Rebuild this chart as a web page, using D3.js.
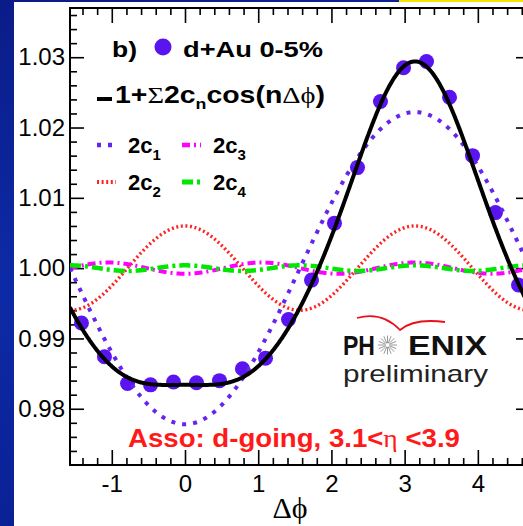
<!DOCTYPE html>
<html><head><meta charset="utf-8">
<script src="https://cdn.jsdelivr.net/npm/d3@7"></script>
<style>html,body{margin:0;padding:0;background:#fff;overflow:hidden}</style>
</head><body>
<svg id="c" width="523" height="526" xmlns="http://www.w3.org/2000/svg"></svg>
<script>
// ---- data ----
const dphiBins = [-1.414, -1.100, -0.785, -0.471, -0.157, 0.157, 0.471, 0.785, 1.100, 1.414,
                  1.728, 2.042, 2.356, 2.670, 2.985, 3.299, 3.613, 3.927, 4.241, 4.555];
const corrValues = [0.9922, 0.9874, 0.9836, 0.9834, 0.9838, 0.9837, 0.9840, 0.9857, 0.9872, 0.9927,
                    0.9983, 1.0064, 1.0143, 1.0237, 1.0285, 1.0294, 1.0243, 1.0160, 1.0079, 0.9976];
const harmonicOrders = [1, 2, 3, 4];
const harmonicCoeffs = [-0.0222, 0.0060, -0.0008, 0.0004];   // 2c_n
const harmonicColors = ["#6624ee", "#ff2424", "#ff00ff", "#00e800"];
const xTickValues = [-1, 0, 1, 2, 3, 4];
const xTickLabels = ["-1", "0", "1", "2", "3", "4"];
const yTickValues = [0.98, 0.99, 1.00, 1.01, 1.02, 1.03];
const yTickLabels = ["0.98", "0.99", "1.00", "1.01", "1.02", "1.03"];

const svg = d3.select("#c");
const W = 523, H = 526;

// slide background
const defs = svg.append("defs");
const g1 = defs.append("linearGradient").attr("id","bg").attr("x1","0").attr("y1","0").attr("x2","0.3").attr("y2","1");
g1.append("stop").attr("offset","0").attr("stop-color","#0a1c88");
g1.append("stop").attr("offset","0.5").attr("stop-color","#0d2aa6");
g1.append("stop").attr("offset","1").attr("stop-color","#0a1f92");
svg.append("rect").attr("width",W).attr("height",H).attr("fill","url(#bg)");
svg.append("rect").attr("x",14).attr("y",2).attr("width",W-14).attr("height",H-2).attr("fill","#fff");
svg.append("rect").attr("x",399).attr("y",0).attr("width",W-399).attr("height",2).attr("fill","#f5e600");

// scales
const x = d3.scaleLinear().domain([-Math.PI/2, 3*Math.PI/2]).range([70, 530]);
const y = d3.scaleLinear().domain([0.972, 1.037]).range([465, 8]);
const L = 70, R = 530, T = 8, B = 465;

defs.append("clipPath").attr("id","clip").append("rect")
  .attr("x",L).attr("y",T).attr("width",R-L).attr("height",B-T);

const font = "'Liberation Sans', Arial, Helvetica, sans-serif";
const serif = "'Liberation Serif', 'Times New Roman', serif";
const fitW = (sel, w) => sel.attr("textLength", w).attr("lengthAdjust","spacingAndGlyphs");

// minor tick values
const xMinor = d3.range(-1.4, 4.61, 0.2).filter(v => Math.abs(v - Math.round(v)) > 1e-6);
const yMinor = d3.range(0.974, 1.0365, 0.002).filter(v => Math.abs(v*100 - Math.round(v*100)) > 1e-6);

function styleAxis(g){
  g.select(".domain").remove();
  g.selectAll(".tick line").attr("stroke","#000").attr("stroke-width",1.6);
}
// bottom
svg.append("g").attr("transform",`translate(0,${B})`)
  .call(d3.axisBottom(x).tickValues(xMinor).tickSize(-7).tickFormat("")).call(styleAxis);
const xb = svg.append("g").attr("transform",`translate(0,${B})`)
  .call(d3.axisBottom(x).tickValues(xTickValues).tickSize(-15).tickPadding(10)
        .tickFormat((d,i)=>xTickLabels[i])).call(styleAxis);
xb.selectAll("text").attr("font-family",font).attr("font-size",24).attr("fill","#000");
// top
svg.append("g").attr("transform",`translate(0,${T})`)
  .call(d3.axisTop(x).tickValues(xMinor).tickSize(-7).tickFormat("")).call(styleAxis);
svg.append("g").attr("transform",`translate(0,${T})`)
  .call(d3.axisTop(x).tickValues(xTickValues).tickSize(-15).tickFormat("")).call(styleAxis);
// left
svg.append("g").attr("transform",`translate(${L},0)`)
  .call(d3.axisLeft(y).tickValues(yMinor).tickSize(-7).tickFormat("")).call(styleAxis);
const yl = svg.append("g").attr("transform",`translate(${L},0)`)
  .call(d3.axisLeft(y).tickValues(yTickValues).tickSize(-14).tickPadding(5)
        .tickFormat((d,i)=>yTickLabels[i])).call(styleAxis);
yl.selectAll("text").attr("font-family",font).attr("font-size",24).attr("fill","#000");
// right
svg.append("g").attr("transform",`translate(${R},0)`)
  .call(d3.axisRight(y).tickValues(yMinor).tickSize(-7).tickFormat("")).call(styleAxis);
svg.append("g").attr("transform",`translate(${R},0)`)
  .call(d3.axisRight(y).tickValues(yTickValues).tickSize(-14).tickFormat("")).call(styleAxis);

// frame
svg.append("rect").attr("x",L).attr("y",T).attr("width",R-L).attr("height",B-T)
  .attr("fill","none").attr("stroke","#000").attr("stroke-width",2);

// axis title
svg.append("text").attr("x",290).attr("y",518).attr("text-anchor","middle")
  .attr("font-family",serif).attr("font-size",30)
  .text("Δϕ");

const plot = svg.append("g").attr("clip-path","url(#clip)");

// data points
plot.selectAll("circle.pt").data(dphiBins).join("circle").attr("class","pt")
  .attr("cx", d => x(d)).attr("cy", (d,i) => y(corrValues[i])).attr("r", 7.5)
  .attr("fill","#5a14ef");

// fit components
const grid = d3.range(-Math.PI/2, 3*Math.PI/2 + 0.005, 0.01);
const line = d3.line().x(d => x(d[0])).y(d => y(d[1]));
const dashes = ["4,7", "2,2.6", "8,4,2,4", "11,4,3,4"];
const widths = [4, 3.4, 4, 4.5];
const drawOrder = [1, 2, 3, 0];
drawOrder.forEach(k => {
  const n = harmonicOrders[k], c = harmonicCoeffs[k];
  plot.append("path").datum(grid.map(p => [p, 1 + c*Math.cos(n*p)]))
    .attr("d", line).attr("fill","none").attr("stroke", harmonicColors[k])
    .attr("stroke-width", widths[k]).attr("stroke-dasharray", dashes[k]);
});
plot.append("path").datum(grid.map(p => [p, 1 + d3.sum(harmonicOrders, (n,k) => harmonicCoeffs[k]*Math.cos(n*p))]))
  .attr("d", line).attr("fill","none").attr("stroke","#000").attr("stroke-width",4);

// legend
const lg = svg.append("g").attr("font-family",font).attr("font-weight","bold").attr("fill","#000");
fitW(lg.append("text").attr("x",112).attr("y",57).attr("font-size",22).text("b)"), 25);
lg.append("circle").attr("cx",163).attr("cy",47).attr("r",8.5).attr("fill","#5a14ef");
fitW(lg.append("text").attr("x",183).attr("y",57).attr("font-size",22).text("d+Au 0-5%"), 140);

lg.append("line").attr("x1",97).attr("x2",112).attr("y1",99).attr("y2",99).attr("stroke","#000").attr("stroke-width",4);
const ft = lg.append("text").attr("x",115).attr("y",103).attr("font-size",24);
ft.append("tspan").text("1+");
ft.append("tspan").attr("font-family",serif).attr("font-weight","normal").text("Σ");
ft.append("tspan").text("2c");
ft.append("tspan").attr("font-size",15).attr("dy",6).text("n");
ft.append("tspan").attr("dy",-6).text("cos(n");
ft.append("tspan").attr("font-family",serif).attr("font-weight","normal").text("Δϕ");
ft.append("tspan").text(")");
fitW(ft, 210);

const legItems = [
  {k:0, lx:97, ly:145, tx:128, ty:153},
  {k:2, lx:182, ly:145, tx:213, ty:153},
  {k:1, lx:97, ly:182, tx:128, ty:190},
  {k:3, lx:182, ly:182, tx:213, ty:190}
];
legItems.forEach(it => {
  lg.append("line").attr("x1",it.lx).attr("x2",it.lx+19).attr("y1",it.ly).attr("y2",it.ly)
    .attr("stroke",harmonicColors[it.k]).attr("stroke-width",widths[it.k]+0.5)
    .attr("stroke-dasharray",dashes[it.k]);
  const t = lg.append("text").attr("x",it.tx).attr("y",it.ty).attr("font-size",22);
  t.append("tspan").text("2c");
  t.append("tspan").attr("font-size",15).attr("dy",7).text(String(harmonicOrders[it.k]));
});

// PHENIX logo
const lo = svg.append("g");
lo.append("path").attr("d","M357,318 Q382,311 400,330 Q414,318 445,322")
  .attr("fill","none").attr("stroke","#e8101a").attr("stroke-width",1.8);
fitW(lo.append("text").attr("x",343).attr("y",355).attr("font-family",font).attr("font-weight","bold")
  .attr("font-size",28).attr("fill","#111").text("PH"), 32);
const starC = [387.5, 345];
d3.range(0, 16).forEach(i => {
  const a = i*Math.PI/8;
  lo.append("line").attr("x1",starC[0]+2*Math.cos(a)).attr("y1",starC[1]+2*Math.sin(a))
    .attr("x2",starC[0]+9.5*Math.cos(a)).attr("y2",starC[1]+9.5*Math.sin(a))
    .attr("stroke","#999").attr("stroke-width",1);
});
fitW(lo.append("text").attr("x",408).attr("y",355).attr("font-family",font).attr("font-weight","bold")
  .attr("font-size",28).attr("fill","#111").text("ENIX"), 79);
fitW(lo.append("text").attr("x",343).attr("y",382).attr("font-family",font)
  .attr("font-size",24).attr("fill","#222").text("preliminary"), 145);

// red caption
const rc = svg.append("text").attr("x",128).attr("y",447).attr("font-family",font).attr("font-weight","bold")
  .attr("font-size",25).attr("fill","#ff1a1a");
rc.append("tspan").text("Asso: d-going, 3.1<");
rc.append("tspan").attr("font-family",serif).attr("font-weight","normal").text("η");
rc.append("tspan").text(" <3.9");
fitW(rc, 332);
</script>
</body></html>
